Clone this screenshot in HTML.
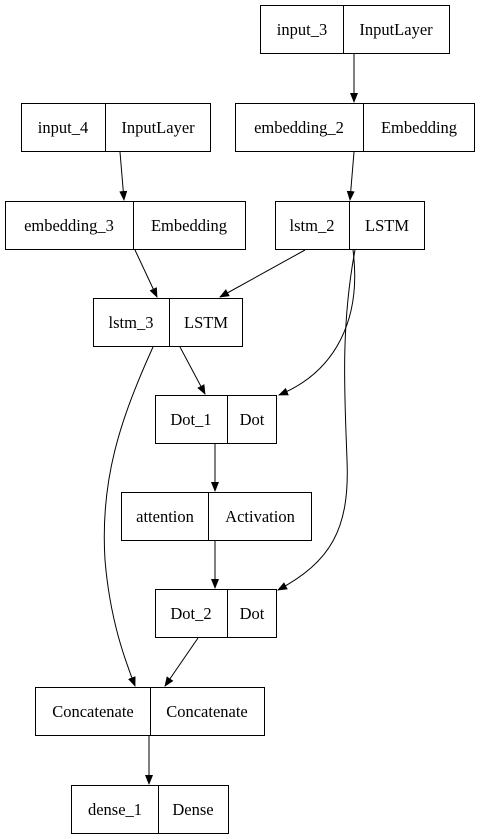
<!DOCTYPE html>
<html><head><style>body{margin:0;background:#fff}svg{display:block}</style></head>
<body>
<svg width="480" height="839" viewBox="0 0 480 839" xmlns="http://www.w3.org/2000/svg">
<defs><marker id="a" markerWidth="10" markerHeight="10" refX="9" refY="5" orient="auto" markerUnits="userSpaceOnUse"><path d="M0,1 L10,5 L0,9 z" fill="#000"/></marker></defs>
<g fill="none" stroke="#000" stroke-width="1">
<rect x="260.5" y="5.5" width="189" height="48"/><line x1="343.5" y1="5" x2="343.5" y2="54"/>
<rect x="21.5" y="103.5" width="189" height="48"/><line x1="105.5" y1="103" x2="105.5" y2="152"/>
<rect x="235.5" y="103.5" width="239" height="48"/><line x1="363.5" y1="103" x2="363.5" y2="152"/>
<rect x="5.5" y="201.5" width="240" height="48"/><line x1="133.5" y1="201" x2="133.5" y2="250"/>
<rect x="275.5" y="201.5" width="149" height="48"/><line x1="349.5" y1="201" x2="349.5" y2="250"/>
<rect x="93.5" y="298.5" width="149" height="48"/><line x1="169.5" y1="298" x2="169.5" y2="347"/>
<rect x="155.5" y="395.5" width="121" height="48"/><line x1="227.5" y1="395" x2="227.5" y2="444"/>
<rect x="121.5" y="492.5" width="190" height="48"/><line x1="208.5" y1="492" x2="208.5" y2="541"/>
<rect x="155.5" y="589.5" width="121" height="48"/><line x1="227.5" y1="589" x2="227.5" y2="638"/>
<rect x="35.5" y="687.5" width="229" height="48"/><line x1="150.5" y1="687" x2="150.5" y2="736"/>
<rect x="71.5" y="785.5" width="157" height="48"/><line x1="158.5" y1="785" x2="158.5" y2="834"/>
</g>
<g fill="none" stroke="#000" marker-end="url(#a)">
<path d="M354,54 L354,102"/>
<path d="M120,152 L124,200"/>
<path d="M354,152 L350,200"/>
<path d="M135,250 L157,297"/>
<path d="M305,250 L220,297"/>
<path d="M353,250 C362,320 335,372 279,395"/>
<path d="M355,250 C340,330 345,400 347,460 C350,530 330,562 278,590"/>
<path d="M180,347 L205,394"/>
<path d="M153,347 C120,420 100,480 105,560 C110,620 125,660 135,686"/>
<path d="M215,444 L215,491"/>
<path d="M215,541 L215,588"/>
<path d="M198,638 L165,686"/>
<path d="M149,736 L149,784"/>
</g>
<g font-family="'Liberation Serif', 'Times New Roman', serif" font-size="16.5" fill="#000" text-anchor="middle">
<text x="302" y="35">input_3</text><text x="396" y="35">InputLayer</text>
<text x="63" y="133">input_4</text><text x="158" y="133">InputLayer</text>
<text x="299" y="133">embedding_2</text><text x="419" y="133">Embedding</text>
<text x="69" y="231">embedding_3</text><text x="189" y="231">Embedding</text>
<text x="312" y="231">lstm_2</text><text x="387" y="231">LSTM</text>
<text x="131" y="328">lstm_3</text><text x="206" y="328">LSTM</text>
<text x="191" y="425">Dot_1</text><text x="252" y="425">Dot</text>
<text x="165" y="522">attention</text><text x="260" y="522">Activation</text>
<text x="191" y="619">Dot_2</text><text x="252" y="619">Dot</text>
<text x="93" y="717">Concatenate</text><text x="207" y="717">Concatenate</text>
<text x="115" y="815">dense_1</text><text x="193" y="815">Dense</text>
</g>
</svg>
</body></html>
